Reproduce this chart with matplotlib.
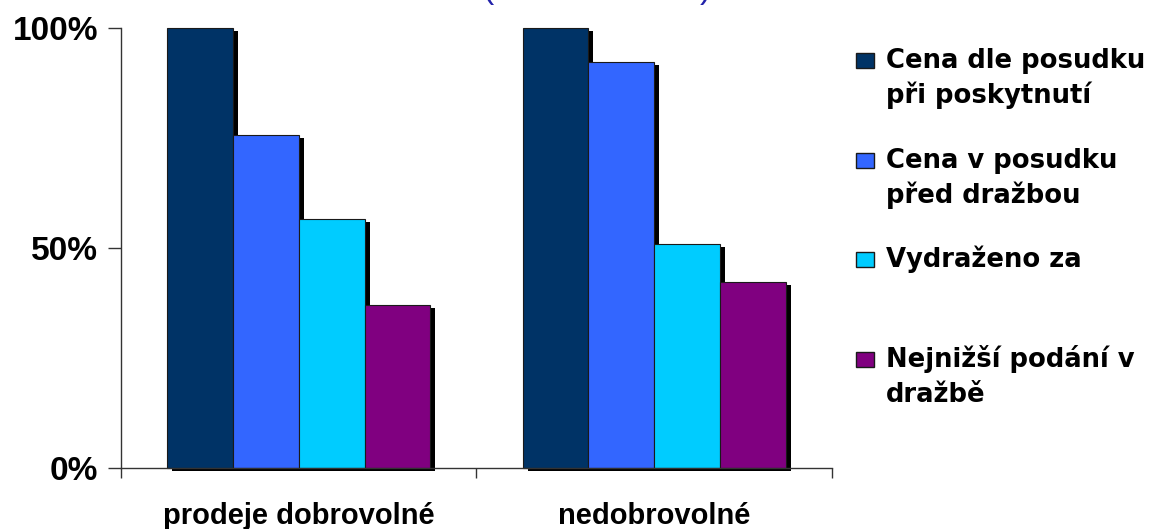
import matplotlib
matplotlib.use('Agg')
import matplotlib.pyplot as plt
import matplotlib.patheffects as pe
from matplotlib.patches import Rectangle
import numpy as np

# kategorie a hodnoty (v % ceny dle posudku)
categories = ['prodeje dobrovolné', 'nedobrovolné']
series_labels = ['Cena dle posudku\npři poskytnutí',
                 'Cena v posudku\npřed dražbou',
                 'Vydraženo za',
                 'Nejnižší podání v\ndražbě']
series_colors = ['#003366', '#3366FF', '#00CCFF', '#800080']
cena_poskytnuti = [100.0, 100.0]
cena_pred_drazbou = [75.7, 92.3]
vydrazeno = [56.6, 50.9]
nejnizsi_podani = [37.0, 42.3]
yticks = [0, 50, 100]
ytick_labels = ['0%', '50%', '100%']

series = [cena_poskytnuti, cena_pred_drazbou, vydrazeno, nejnizsi_podani]

W, H = 1155, 529
fig = plt.figure(figsize=(W / 100, H / 100), dpi=100)
ax = fig.add_axes([121 / W, 1 - 468 / H, 711 / W, 440 / H])

bar_w = 0.185
x = np.arange(len(categories)) + 0.5
stin = [pe.SimplePatchShadow(offset=(3.6, -2.2), shadow_rgbFace='black', alpha=1.0),
        pe.Normal()]
for i, (vals, color) in enumerate(zip(series, series_colors)):
    bars = ax.bar(x + (i - 1.5) * bar_w, vals, bar_w, color=color,
                  edgecolor='#1a1a1a', linewidth=0.8, clip_on=False)
    for b in bars:
        b.set_path_effects(stin)

ax.set_xlim(0, len(categories))
ax.set_ylim(0, 100)
for s in ['top', 'right']:
    ax.spines[s].set_visible(False)
for s in ['left', 'bottom']:
    ax.spines[s].set_color('#333333')
    ax.spines[s].set_linewidth(1.0)

ax.set_xticks(np.arange(len(categories) + 1))
ax.set_xticklabels([])
ax.tick_params(axis='x', direction='out', length=7.5, width=1.0, color='#333333')
ax.set_yticks(yticks)
ax.set_yticklabels(ytick_labels, fontsize=24, family='Liberation Sans', fontweight='bold')
ax.tick_params(axis='y', direction='out', length=9.4, width=1.0, pad=7, color='#333333')

for xc, cat in zip(x, categories):
    ax.text(xc, -0.127, cat, transform=ax.get_xaxis_transform(), ha='center',
            va='baseline', fontsize=21, fontweight='bold', family='Liberation Sans')

# legenda vpravo
for i, (label, color) in enumerate(zip(series_labels, series_colors)):
    base = 68 + i * 99.7
    fig.add_artist(Rectangle((856 / W, 1 - base / H), 18 / W, 15 / H,
                             transform=fig.transFigure, facecolor=color,
                             edgecolor='#1a1a1a', linewidth=1.0))
    for j, line in enumerate(label.split('\n')):
        fig.text(886 / W, 1 - (base + j * 35) / H, line, va='baseline', ha='left',
                 fontsize=18.6, fontweight='bold', family='DejaVu Sans')

# zbytek nadpisu nahoře (oříznutý okrajem)
fig.text(483 / W, 1 + 2 / H, '(', color='#2222aa', fontsize=24,
         va='baseline', family='Liberation Sans')
fig.text(700 / W, 1 + 2 / H, ')', color='#2222aa', fontsize=24,
         va='baseline', family='Liberation Sans')

fig.savefig('out.png', dpi=100)
